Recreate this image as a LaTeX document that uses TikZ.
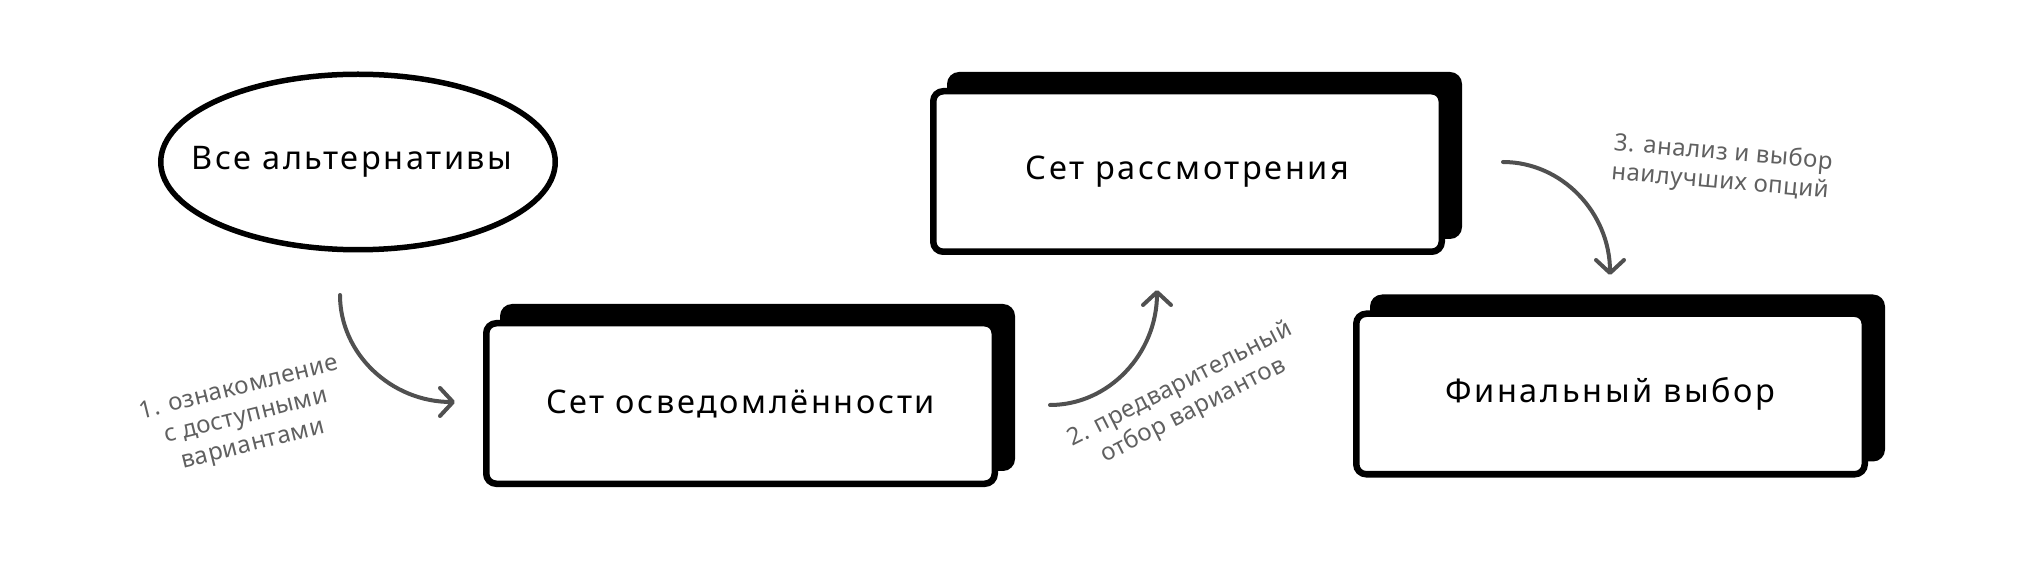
\documentclass[tikz,border=0pt]{standalone}
\usepackage{fontspec}
\setmainfont{Noto Sans}[LetterSpace=8]
\newfontfamily\steplabelfont{Noto Sans}[LetterSpace=2]
\usetikzlibrary{shapes.geometric,arrows.meta}
\definecolor{arrowgray}{HTML}{505050}
\definecolor{labelgray}{HTML}{606060}
\begin{document}
\begin{tikzpicture}[x=1pt,y=1pt,
  shadowbox/.style={rectangle, rounded corners=12pt, fill=black, minimum width=515pt, minimum height=167pt, inner sep=0pt, outer sep=0pt},
  setbox/.style={rectangle, rounded corners=10pt, draw=black, line width=6.5pt, fill=white, minimum width=508.5pt, minimum height=160.5pt, inner sep=0pt, font=\fontsize{32.5}{38}\selectfont},
  allbox/.style={ellipse, draw=black, line width=5.5pt, minimum width=394.5pt, minimum height=175.5pt, inner sep=0pt, font=\fontsize{32.5}{38}\selectfont},
  steplabel/.style={text=labelgray, font=\steplabelfont\fontsize{24}{29}\selectfont, inner sep=0pt},
  flow/.style={draw=arrowgray, line width=4pt, line cap=round, -{Straight Barb[length=13pt,width=28pt,line cap=round,line join=round]}}
]
\useasboundingbox (0,0) rectangle (2024,584);
% all alternatives
\node[allbox] (all) at (358,422) {\makebox[0pt]{\hspace*{-12pt}Все альтернативы}};
% shadows
\node[shadowbox] (aw-sh) at (757.5,196.5) {};
\node[shadowbox] (co-sh) at (1204.5,428.5) {};
\node[shadowbox] (fi-sh) at (1627.5,206) {};
% front boxes
\node[setbox] (aw) at (740.5,180.5) {Сет осведомлённости};
\node[setbox] (co) at (1187.5,412.5) {Сет рассмотрения};
\node[setbox] (fi) at (1610.5,190) {Финальный выбор};
% arrows
\coordinate (a1s) at (340,289);
\coordinate (a1e) at (455,182);
\coordinate (a2s) at (1050,179);
\coordinate (a2e) at (1157,294);
\coordinate (a3s) at (1503,422);
\coordinate (a3e) at (1610,309);
\draw[flow] (a1s) .. controls (340,230) and (391.5,182) .. (a1e);
\draw[flow] (a2s) .. controls (1109,179) and (1157,230.5) .. (a2e);
\draw[flow] (a3s) .. controls (1562,422) and (1610,371) .. (a3e);
% labels
\node[steplabel, rotate=14, align=center] (l1) at (246,167) {1. ознакомление\\с доступными\\вариантами};
\node[steplabel, rotate=27, align=center] (l2) at (1187,186) {2. предварительный\\отбор вариантов};
\node[steplabel, rotate=-5, align=left] (l3) at (1722,416) {3. анализ и выбор\\наилучших опций};
\end{tikzpicture}
\end{document}
